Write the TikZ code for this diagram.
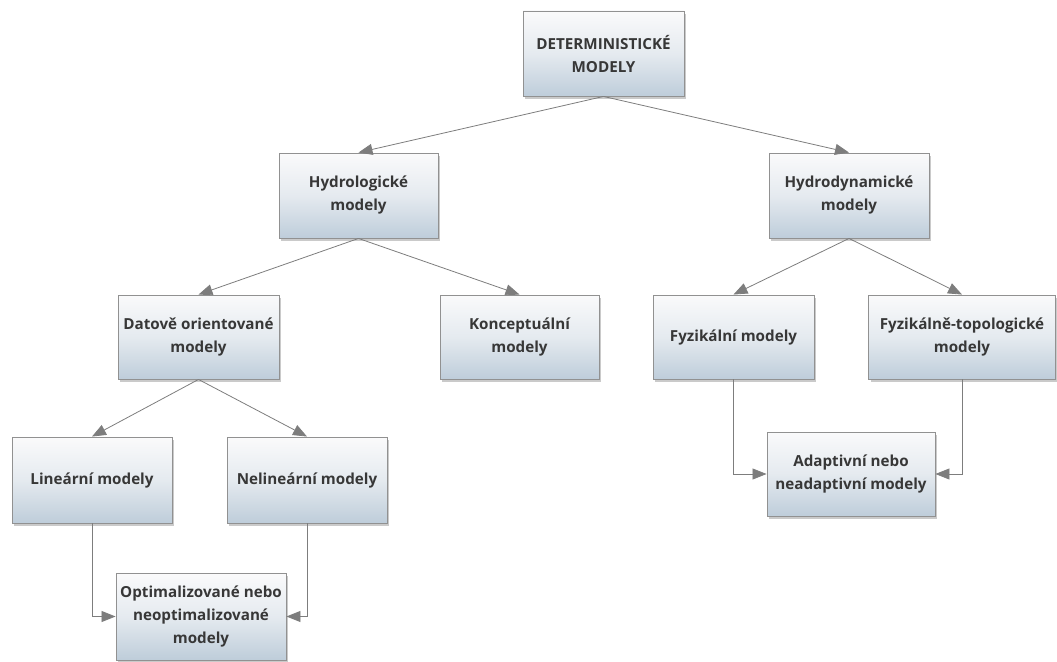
\documentclass[tikz,border=0pt]{standalone}
\usepackage{fontspec}
\setmainfont{Open Sans}
\usetikzlibrary{arrows.meta,shadows}

\definecolor{boxtop}{RGB}{250,250,251}
\definecolor{boxbot}{RGB}{190,205,218}
\definecolor{boxline}{RGB}{145,145,145}
\definecolor{linkcol}{RGB}{125,125,125}
\definecolor{txt}{RGB}{55,55,55}

\tikzset{
  mbox/.style={
    draw=boxline, line width=0.9pt,
    top color=boxtop, bottom color=boxbot,
    middle color=boxtop!65!boxbot,
    inner sep=0pt, align=center,
    font=\bfseries\fontsize{15.2}{23}\selectfont, text=txt,
    drop shadow={shadow xshift=2pt, shadow yshift=-3pt, opacity=0.35, fill=black!60}
  },
  link/.style={draw=linkcol, line width=0.8pt,
    -{Triangle[length=14pt,width=11pt]}}
}

\begin{document}
\begin{tikzpicture}[x=1pt,y=-1pt]
  \useasboundingbox (0,0) rectangle (1057,661);

  % hierarchy boxes
  \node[mbox, minimum width=161pt, minimum height=85pt] (det) at (603.5,53.5) {DETERMINISTICKÉ\\MODELY};
  \node[mbox, minimum width=159pt, minimum height=85pt] (hydl) at (358.5,195.5) {Hydrologické\\modely};
  \node[mbox, minimum width=160pt, minimum height=85pt] (hydd) at (849,195.5) {Hydrodynamické\\modely};
  \node[mbox, minimum width=161pt, minimum height=84pt] (dat) at (198.5,337) {Datově orientované\\modely};
  \node[mbox, minimum width=159pt, minimum height=84pt] (kon) at (519.5,337) {Konceptuální\\modely};
  \node[mbox, minimum width=161pt, minimum height=84pt] (fyz) at (733.5,337) {Fyzikální modely};
  \node[mbox, minimum width=187pt, minimum height=84pt] (fyt) at (962,337) {Fyzikálně-topologické\\modely};
  \node[mbox, minimum width=160pt, minimum height=86pt] (lin) at (92,480) {Lineární modely};
  \node[mbox, minimum width=160pt, minimum height=86pt] (nel) at (307,480) {Nelineární modely};
  \node[mbox, minimum width=170pt, minimum height=87pt] (opt) at (201,616.5) {Optimalizované nebo\\neoptimalizované\\modely};
  \node[mbox, minimum width=168pt, minimum height=84pt] (ada) at (851,474) {Adaptivní nebo\\neadaptivní modely};

  % tree connectors
  \draw[link] (det.south) -- (hydl.north);
  \draw[link] (det.south) -- (hydd.north);
  \draw[link] (hydl.south) -- (dat.north);
  \draw[link] (hydl.south) -- (kon.north);
  \draw[link] (hydd.south) -- (fyz.north);
  \draw[link] (hydd.south) -- (fyt.north);
  \draw[link] (dat.south) -- (lin.north);
  \draw[link] (dat.south) -- (nel.north);

  % elbow connectors
  \draw[link] (lin.south) |- (opt.west);
  \draw[link] (nel.south) |- (opt.east);
  \draw[link] (fyz.south) |- (ada.west);
  \draw[link] (fyt.south) |- (ada.east);
\end{tikzpicture}
\end{document}
